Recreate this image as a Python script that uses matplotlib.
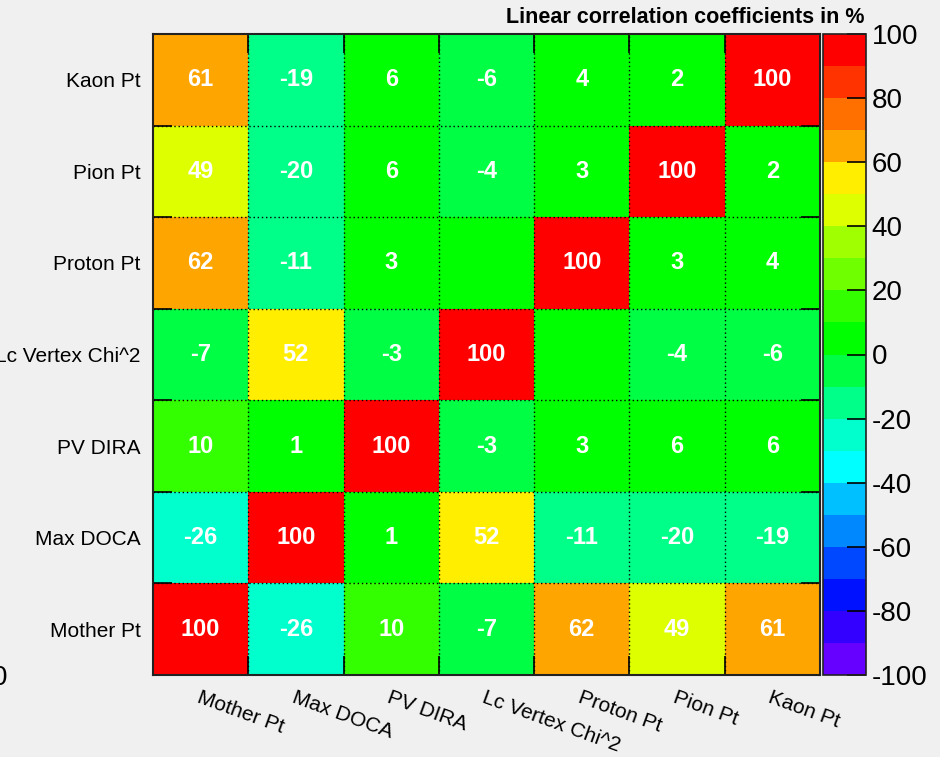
import numpy as np
import matplotlib
matplotlib.use("Agg")
import matplotlib.pyplot as plt
from matplotlib.colors import ListedColormap, BoundaryNorm

plt.rcParams['font.family'] = ['Liberation Sans', 'DejaVu Sans']
plt.rcParams['axes.unicode_minus'] = False

variables = ["Mother Pt", "Max DOCA", "PV DIRA", "Lc Vertex Chi^2",
             "Proton Pt", "Pion Pt", "Kaon Pt"]

# correlation in %, row 0 = Mother Pt (bottom row)
corr = np.array([
    [100, -26,  10,  -7,  62,  49,  61],
    [-26, 100,   1,  52, -11, -20, -19],
    [ 10,   1, 100,  -3,   3,   6,   6],
    [ -7,  52,  -3, 100,   0,  -4,  -6],
    [ 62, -11,   3,   0, 100,   3,   4],
    [ 49, -20,   6,  -4,   3, 100,   2],
    [ 61, -19,   6,  -6,   4,   2, 100],
])

# 20 colour levels from -100 to 100
palette = ["#6600ff", "#3300ff", "#0011ff", "#0048ff", "#0088ff",
           "#00c0ff", "#00ffff", "#00ffcc", "#00ff88", "#00ff44",
           "#00ff00", "#33ff00", "#70ff00", "#a0ff00", "#ddff00",
           "#ffee00", "#ffa500", "#ff7000", "#ff3300", "#ff0000"]
levels = np.arange(-100, 101, 10)
cbar_ticks = np.arange(-100, 101, 20)

cmap = ListedColormap(palette)
cmap.set_over(palette[-1])
cmap.set_under(palette[0])
norm = BoundaryNorm(levels, cmap.N)

fig = plt.figure(figsize=(9.4, 7.57), dpi=100, facecolor="#f0f0f0")
ax = fig.add_axes([153/940, 82/757, 667/940, 641/757])

n = len(variables)
edges = np.arange(n + 1)
mesh = ax.pcolormesh(edges, edges, corr, cmap=cmap, norm=norm)

for i in range(n):
    for j in range(n):
        v = corr[i, j]
        if v != 0:
            ax.text(j + 0.5, i + 0.5, str(v), ha="center", va="center",
                    color="white", fontsize=17, fontweight="bold")

ax.set_xlim(0, n)
ax.set_ylim(0, n)

# cell boundaries: inward ticks + dotted grid
ax.set_xticks(edges[1:-1], minor=True)
ax.set_yticks(edges[1:-1], minor=True)
ax.tick_params(which="minor", direction="in", length=14, width=1.2,
               top=True, right=True, bottom=True, left=True, color="black")
ax.grid(which="minor", color="black", linestyle=(0, (1, 2)), linewidth=1)

ax.set_xticks([])
ax.set_yticks(edges[:-1] + 0.5)
ax.set_yticklabels(variables, fontsize=15)
ax.tick_params(axis="y", which="major", length=0, pad=9)

for j, name in enumerate(variables):
    ax.text(j + 0.5, -0.02, name, transform=ax.get_xaxis_transform(),
            rotation=-20, rotation_mode="anchor", ha="left", va="top",
            fontsize=15)

for s in ax.spines.values():
    s.set_linewidth(1.5)
    s.set_color("#222222")

cax = fig.add_axes([823/940, 82/757, 43/940, 641/757])
cb = fig.colorbar(mesh, cax=cax, ticks=cbar_ticks)
cb.minorticks_off()
cb.outline.set_linewidth(1.2)
cb.outline.set_edgecolor("#222222")
cax.tick_params(which="major", direction="in", length=14, width=1.2,
                labelsize=20, pad=4, color="black")
cax.tick_params(which="minor", length=0)

fig.text(0.920, 0.9775, "Linear correlation coefficients in %",
         ha="right", va="center", fontsize=15.5, fontweight="bold")
fig.text(-0.0085, 0.104, "0", ha="left", va="center", fontsize=20)

fig.savefig("out.png", dpi=100, facecolor=fig.get_facecolor())
